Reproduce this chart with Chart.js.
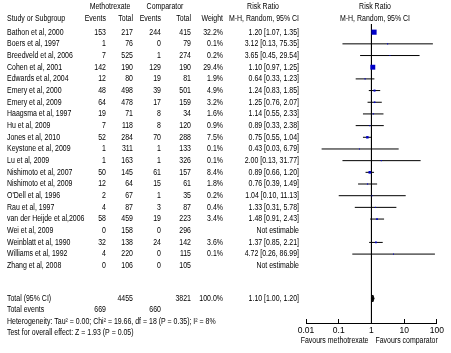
<!DOCTYPE html>
<html><head><meta charset="utf-8">
<script src="https://cdn.jsdelivr.net/npm/chart.js@4.4.1/dist/chart.umd.min.js"></script>
<style>html,body{margin:0;padding:0;background:#fff;}</style>
</head><body>
<canvas id="c" width="451" height="353"></canvas>
<script>
// ---------- data ----------
const studies = ["Bathon et al, 2000","Boers et al, 1997","Breedveld et al, 2006","Cohen et al, 2001","Edwards et al, 2004","Emery et al, 2000","Emery et al, 2009","Haagsma et al, 1997","Hu et al, 2009","Jones et al, 2010","Keystone et al, 2009","Lu et al, 2009","Nishimoto et al, 2007","Nishimoto et al, 2009","O'Dell et al, 1996","Rau et al, 1997","van der Heijde et al,2006","Wei et al, 2009","Weinblatt et al, 1990","Williams et al, 1992","Zhang et al, 2008"];
const mtxEvents = [153,1,7,142,12,48,64,19,7,52,1,1,50,12,2,4,58,0,32,4,0];
const mtxTotal  = [217,76,525,190,80,498,478,71,118,284,311,163,145,64,67,87,459,158,138,220,106];
const cmpEvents = [244,0,1,129,19,39,17,8,8,70,1,1,61,15,1,3,19,0,24,0,0];
const cmpTotal  = [415,79,274,190,81,501,159,34,120,288,133,326,157,61,35,87,223,296,142,115,105];
const weights   = [32.2,0.1,0.2,29.4,1.9,4.9,3.2,1.6,0.9,7.5,0.1,0.1,8.4,1.8,0.2,0.4,3.4,null,3.6,0.1,null];
const riskRatio = [1.20,3.12,3.65,1.10,0.64,1.24,1.25,1.14,0.89,0.75,0.43,2.00,0.89,0.76,1.04,1.33,1.48,null,1.37,4.72,null];
const ciLower   = [1.07,0.13,0.45,0.97,0.33,0.83,0.76,0.55,0.33,0.55,0.03,0.13,0.66,0.39,0.10,0.31,0.91,null,0.85,0.26,null];
const ciUpper   = [1.35,75.35,29.54,1.25,1.23,1.85,2.07,2.33,2.38,1.04,6.79,31.77,1.20,1.49,11.13,5.78,2.43,null,2.21,86.99,null];
const totalMtx = 4455, totalCmp = 3821, totalWeight = 100.0;
const totalEventsMtx = 669, totalEventsCmp = 660;
const pooledRR = 1.10, pooledLower = 1.00, pooledUpper = 1.20;
const heterogeneityText = "Heterogeneity: Tau\u00B2 = 0.00; Chi\u00B2 = 19.66, df = 18 (P = 0.35); I\u00B2 = 8%";
const overallEffectText = "Test for overall effect: Z = 1.93 (P = 0.05)";
const axisTicks = [0.01, 0.1, 1, 10, 100];
const axisTickLabels = ["0.01", "0.1", "1", "10", "100"];
const favoursLeft = "Favours methotrexate", favoursRight = "Favours comparator";

// ---------- layout (row units on the y scale) ----------
const Y_MIN = -0.7, Y_MAX = 24.9;
const HEAD1 = -2.2, HEAD2 = -1.2;
const ROW_TOTAL = 22.8, ROW_EVENTS = 23.75, ROW_HET = 24.75, ROW_TEST = 25.75, ROW_FAV = 26.45;
const COL = {name: 7, e1: 106, n1: 133, e2: 161, n2: 191, w: 223, rr: 299};

function hasFont(name) {
  const c = document.createElement('canvas').getContext('2d');
  const s = 'Study or Subgroup 0123456789';
  c.font = '20px monospace'; const a = c.measureText(s).width;
  c.font = '20px "' + name + '", monospace'; const b = c.measureText(s).width;
  return Math.abs(a - b) > 0.5;
}
const NARROW = hasFont('Liberation Sans Narrow');
const FAMILY = NARROW ? '"Liberation Sans Narrow", "Liberation Sans", Arial, sans-serif' : '"Liberation Sans", Arial, sans-serif';
const FSIZE = NARROW ? 9 : 8.5;
const SX = NARROW ? 1 : 0.82;

function txt(ctx, s, x, y, align) {
  ctx.save();
  ctx.translate(x, y);
  ctx.scale(SX, 1);
  ctx.textAlign = align;
  ctx.textBaseline = 'middle';
  ctx.fillText(s, 0, 0);
  ctx.restore();
}
const fmtRR = (r, l, h) => r.toFixed(2) + ' [' + l.toFixed(2) + ', ' + h.toFixed(2) + ']';

const tablePlugin = {
  id: 'table',
  afterDraw(chart) {
    const ctx = chart.ctx, ys = chart.scales.y, xs = chart.scales.x;
    const py = v => ys.getPixelForValue(v);
    ctx.save();
    ctx.fillStyle = '#000';
    ctx.font = FSIZE + 'px ' + FAMILY;
    // headers
    txt(ctx, 'Methotrexate', 110, py(HEAD1), 'center');
    txt(ctx, 'Comparator', 165, py(HEAD1), 'center');
    txt(ctx, 'Risk Ratio', 263, py(HEAD1), 'center');
    txt(ctx, 'Risk Ratio', 375, py(HEAD1), 'center');
    txt(ctx, 'Study or Subgroup', COL.name, py(HEAD2), 'left');
    txt(ctx, 'Events', COL.e1, py(HEAD2), 'right');
    txt(ctx, 'Total', COL.n1, py(HEAD2), 'right');
    txt(ctx, 'Events', COL.e2, py(HEAD2), 'right');
    txt(ctx, 'Total', COL.n2, py(HEAD2), 'right');
    txt(ctx, 'Weight', COL.w, py(HEAD2), 'right');
    txt(ctx, 'M-H, Random, 95% CI', COL.rr, py(HEAD2), 'right');
    txt(ctx, 'M-H, Random, 95% CI', 375, py(HEAD2), 'center');
    // rows
    studies.forEach((s, i) => {
      const y = py(i);
      txt(ctx, s, COL.name, y, 'left');
      txt(ctx, String(mtxEvents[i]), COL.e1, y, 'right');
      txt(ctx, String(mtxTotal[i]), COL.n1, y, 'right');
      txt(ctx, String(cmpEvents[i]), COL.e2, y, 'right');
      txt(ctx, String(cmpTotal[i]), COL.n2, y, 'right');
      if (weights[i] !== null) {
        txt(ctx, weights[i].toFixed(1) + '%', COL.w, y, 'right');
        txt(ctx, fmtRR(riskRatio[i], ciLower[i], ciUpper[i]), COL.rr, y, 'right');
      } else {
        txt(ctx, 'Not estimable', COL.rr, y, 'right');
      }
    });
    // totals
    txt(ctx, 'Total (95% CI)', COL.name, py(ROW_TOTAL), 'left');
    txt(ctx, String(totalMtx), COL.n1, py(ROW_TOTAL), 'right');
    txt(ctx, String(totalCmp), COL.n2, py(ROW_TOTAL), 'right');
    txt(ctx, totalWeight.toFixed(1) + '%', COL.w, py(ROW_TOTAL), 'right');
    txt(ctx, fmtRR(pooledRR, pooledLower, pooledUpper), COL.rr, py(ROW_TOTAL), 'right');
    txt(ctx, 'Total events', COL.name, py(ROW_EVENTS), 'left');
    txt(ctx, String(totalEventsMtx), COL.e1, py(ROW_EVENTS), 'right');
    txt(ctx, String(totalEventsCmp), COL.e2, py(ROW_EVENTS), 'right');
    txt(ctx, heterogeneityText, COL.name, py(ROW_HET), 'left');
    txt(ctx, overallEffectText, COL.name, py(ROW_TEST), 'left');
    // favours
    const x1 = xs.getPixelForValue(1);
    txt(ctx, favoursLeft, x1 - 3, py(ROW_FAV), 'right');
    txt(ctx, favoursRight, x1 + 4, py(ROW_FAV), 'left');
    ctx.restore();
  }
};

// ---------- datasets ----------
const datasets = [];
datasets.push({
  type: 'scatter', order: 0,
  data: studies.map((s, i) => riskRatio[i] === null ? null : {x: riskRatio[i], y: i}).filter(d => d),
  pointStyle: 'rect',
  pointRadius: weights.filter(w => w !== null).map(w => Math.max(0.75, 0.64 * Math.sqrt(w))),
  backgroundColor: '#0000C8', borderWidth: 0
});
datasets.push({
  type: 'line', order: 1,
  data: [{x: pooledLower, y: ROW_TOTAL}, {x: pooledRR, y: ROW_TOTAL - 0.3}, {x: pooledUpper, y: ROW_TOTAL}, {x: pooledRR, y: ROW_TOTAL + 0.3}, {x: pooledLower, y: ROW_TOTAL}],
  borderColor: '#000', backgroundColor: '#000', borderWidth: 1, fill: 'shape', pointRadius: 0, tension: 0
});
studies.forEach((s, i) => {
  if (riskRatio[i] === null) return;
  datasets.push({
    type: 'line', order: 2,
    data: [{x: ciLower[i], y: i}, {x: ciUpper[i], y: i}],
    borderColor: '#000', borderWidth: 1, pointRadius: 0, fill: false
  });
});
datasets.push({
  type: 'line', order: 3,
  data: [{x: 1, y: Y_MIN}, {x: 1, y: Y_MAX}],
  borderColor: '#000', borderWidth: 1, pointRadius: 0, fill: false
});

Chart.defaults.font.family = FAMILY;
Chart.defaults.font.size = FSIZE;
Chart.defaults.color = '#000';

new Chart(document.getElementById('c'), {
  type: 'scatter',
  data: {datasets},
  options: {
    responsive: false, animation: false, devicePixelRatio: 1,
    layout: {padding: {left: 306, right: 8, top: 24, bottom: 0}},
    plugins: {legend: {display: false}, tooltip: {enabled: false}},
    scales: {
      x: {
        type: 'logarithmic', position: 'bottom', min: 0.01, max: 100,
        afterBuildTicks: sc => { sc.ticks = axisTicks.map(v => ({value: v})); },
        afterFit: sc => { sc.height = 30; },
        ticks: {autoSkip: false, maxRotation: 0, padding: 7, color: '#000',
          font: {size: FSIZE, family: FAMILY},
          callback: (v, i) => axisTickLabels[i]},
        grid: {display: true, drawOnChartArea: false, drawTicks: true, tickLength: -4, color: '#000', lineWidth: 1},
        border: {display: true, color: '#000', width: 1}
      },
      y: {type: 'linear', reverse: true, min: Y_MIN, max: Y_MAX, display: false}
    }
  },
  plugins: [tablePlugin]
});
</script>
</body></html>
